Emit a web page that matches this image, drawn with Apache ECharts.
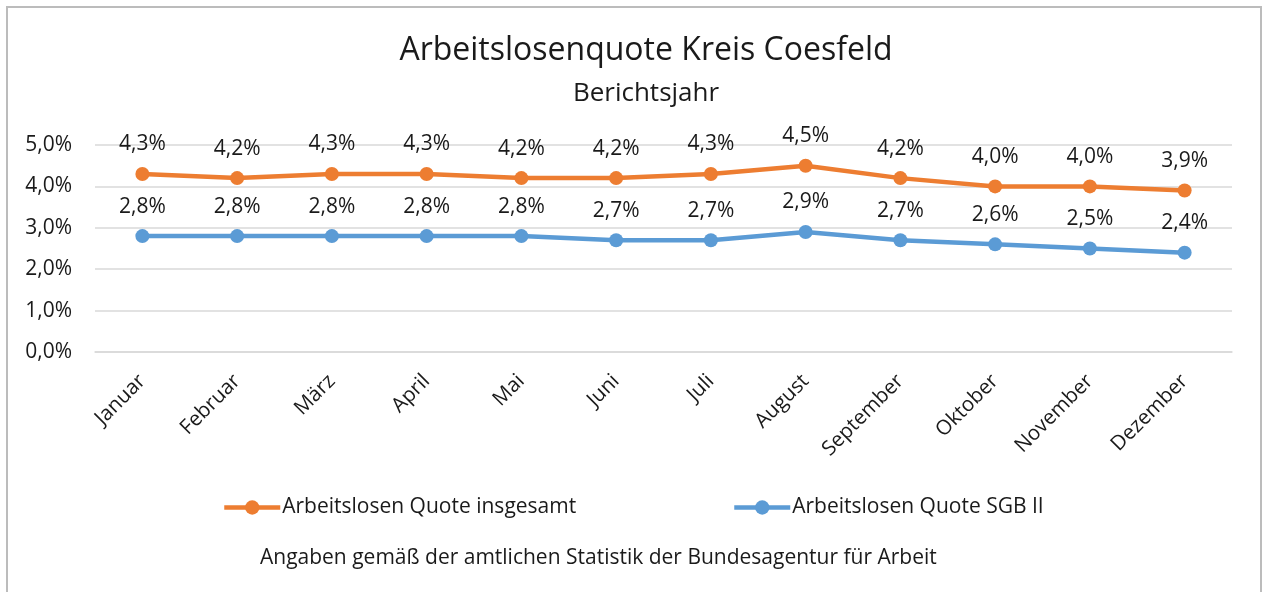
<!DOCTYPE html>
<html>
<head>
<meta charset="utf-8">
<script src="https://cdn.jsdelivr.net/npm/echarts@6/dist/echarts.min.js"></script>
<style>
  html, body { margin: 0; padding: 0; background: #fff; }
  #chart { width: 1263px; height: 592px; }
</style>
</head>
<body>
<div id="chart"></div>
<script>
  // Monate
  var months = ['Januar', 'Februar', 'März', 'April', 'Mai', 'Juni', 'Juli', 'August', 'September', 'Oktober', 'November', 'Dezember'];
  // Quoten in Prozent
  var quoteGesamt = [4.3, 4.2, 4.3, 4.3, 4.2, 4.2, 4.3, 4.5, 4.2, 4.0, 4.0, 3.9];
  var quoteSGB2 = [2.8, 2.8, 2.8, 2.8, 2.8, 2.7, 2.7, 2.9, 2.7, 2.6, 2.5, 2.4];
  var yTicks = [0, 1, 2, 3, 4, 5];

  var font = '"Open Sans", sans-serif';
  function pct(v) {
    return v.toFixed(1).replace('.', ',') + '%';
  }

  var chart = echarts.init(document.getElementById('chart'));
  var option = {
    textStyle: { fontFamily: font },
    color: ['#ED7D31', '#5B9BD5'],
    graphic: [
      {
        type: 'rect',
        shape: { x: 7, y: 7, width: 1254, height: 600 },
        style: { fill: 'none', stroke: '#bcbcbc', lineWidth: 2 },
        silent: true
      },
      {
        type: 'text', x: 646, y: 51,
        style: { text: 'Arbeitslosenquote Kreis Coesfeld', font: '32px ' + font, fill: '#1a1a1a', align: 'center', verticalAlign: 'middle' }
      },
      {
        type: 'text', x: 646, y: 94,
        style: { text: 'Berichtsjahr', font: '26px ' + font, fill: '#1a1a1a', align: 'center', verticalAlign: 'middle' }
      },
      {
        type: 'text', x: 260, y: 558,
        style: { text: 'Angaben gemäß der amtlichen Statistik der Bundesagentur für Arbeit', font: '21px ' + font, fill: '#1a1a1a', align: 'left', verticalAlign: 'middle' }
      }
    ],
    grid: { left: 95, right: 31, top: 145, bottom: 240 },
    legend: [
      {
        data: ['Arbeitslosen Quote insgesamt'],
        left: 222, top: 497, padding: 0,
        itemWidth: 56, itemHeight: 18, itemGap: 0,
        lineStyle: { width: 4.5 },
        textStyle: { fontSize: 21, color: '#1a1a1a', fontFamily: font, padding: [0, 0, 0, -3] }
      },
      {
        data: ['Arbeitslosen Quote SGB II'],
        left: 732, top: 497, padding: 0,
        itemWidth: 56, itemHeight: 18, itemGap: 0,
        lineStyle: { width: 4.5 },
        textStyle: { fontSize: 21, color: '#1a1a1a', fontFamily: font, padding: [0, 0, 0, -3] }
      }
    ],
    xAxis: {
      type: 'category',
      data: months,
      boundaryGap: true,
      axisLine: { lineStyle: { color: '#d9d9d9', width: 1.5 } },
      axisTick: { show: false },
      axisLabel: { rotate: 45, fontSize: 20.5, color: '#1a1a1a', margin: 26, interval: 0 }
    },
    yAxis: {
      type: 'value',
      min: yTicks[0],
      max: yTicks[yTicks.length - 1],
      interval: 1,
      axisLine: { show: false },
      axisTick: { show: false },
      splitLine: { lineStyle: { color: '#d9d9d9', width: 1.5 } },
      axisLabel: { fontSize: 21, color: '#1a1a1a', margin: 23, formatter: pct }
    },
    series: [
      {
        name: 'Arbeitslosen Quote insgesamt',
        type: 'line',
        data: quoteGesamt,
        symbol: 'circle',
        symbolSize: 14,
        lineStyle: { width: 4.5 },
        label: { show: true, position: 'top', distance: 12, fontSize: 21, color: '#1a1a1a', formatter: function (p) { return pct(p.value); } }
      },
      {
        name: 'Arbeitslosen Quote SGB II',
        type: 'line',
        data: quoteSGB2,
        symbol: 'circle',
        symbolSize: 14,
        lineStyle: { width: 4.5 },
        label: { show: true, position: 'top', distance: 12, fontSize: 21, color: '#1a1a1a', formatter: function (p) { return pct(p.value); } }
      }
    ]
  };
  chart.setOption(option);
  window.onresize = function () {
    chart.resize();
  };
</script>
</body>
</html>
